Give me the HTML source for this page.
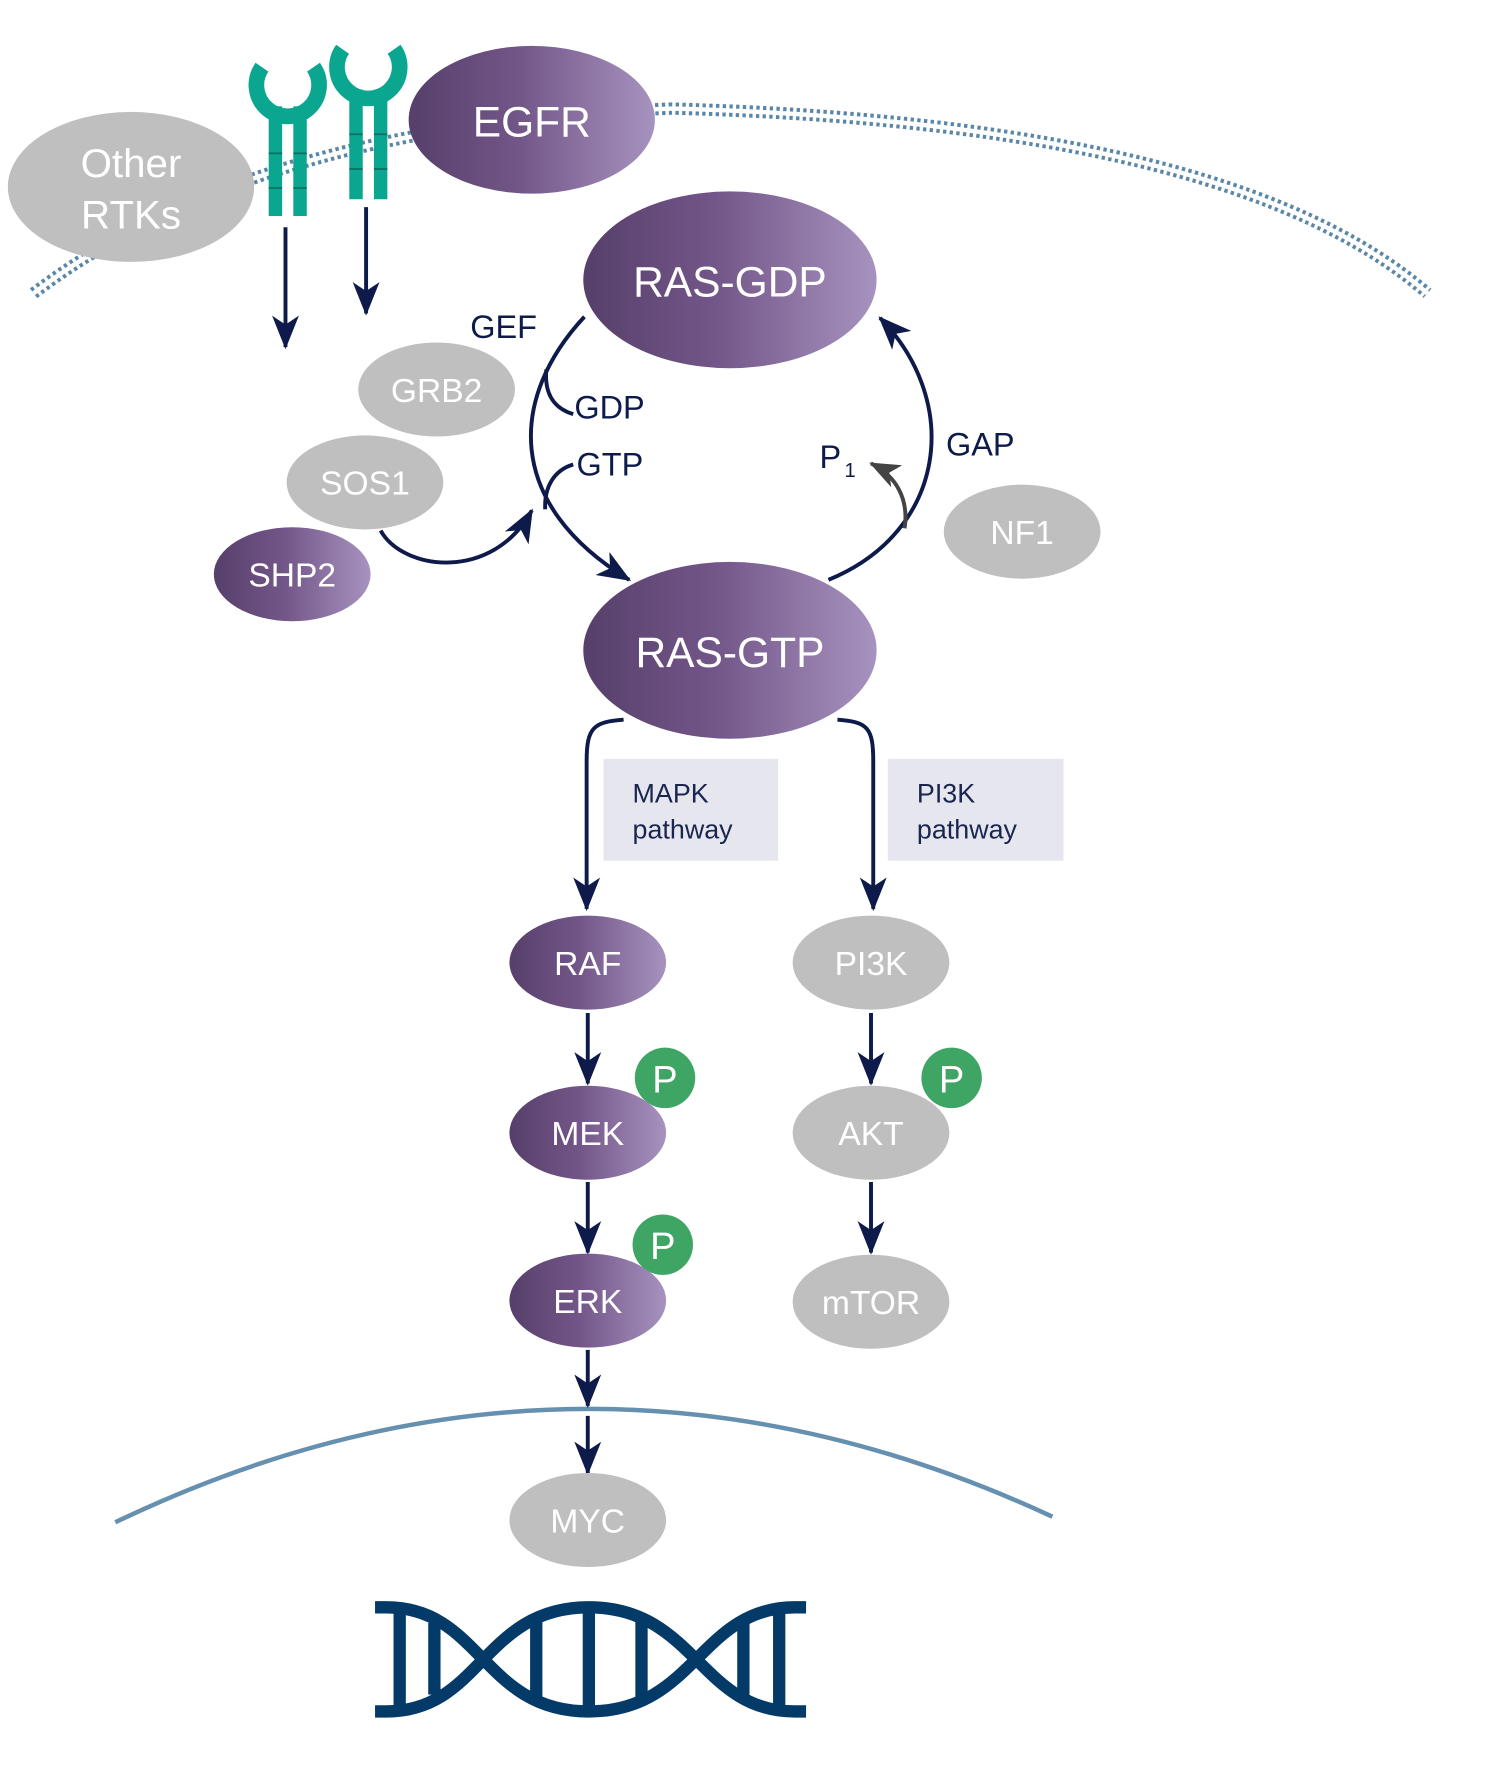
<!DOCTYPE html>
<html><head><meta charset="utf-8"><style>
html,body{margin:0;padding:0;background:#fff;}
svg{display:block;}
text{font-family:"Liberation Sans",Arial,sans-serif;}
</style></head><body>
<svg width="1489" height="1773" viewBox="0 0 1330 1584" preserveAspectRatio="none" xmlns="http://www.w3.org/2000/svg">
<defs>
<linearGradient id="pg" x1="0" y1="0" x2="1" y2="0">
<stop offset="0" stop-color="#563f6a"/><stop offset="0.45" stop-color="#735689"/><stop offset="1" stop-color="#a793bf"/>
</linearGradient>
<marker id="ah" viewBox="0 0 30 24" refX="28" refY="12" markerWidth="30" markerHeight="24" markerUnits="userSpaceOnUse" orient="auto">
<path d="M0,0 L30,12 L0,24 L8,12 Z" fill="#0d1a4a"/>
</marker>
<marker id="ahg" viewBox="0 0 30 24" refX="28" refY="12" markerWidth="28" markerHeight="22" markerUnits="userSpaceOnUse" orient="auto">
<path d="M0,0 L30,12 L0,24 L8,12 Z" fill="#444"/>
</marker>
</defs>

<!-- cell membrane -->
<g fill="none">
<path d="M30,262 Q230,110 600,97 Q1100,110 1275,262" stroke="#5a87a8" stroke-width="11" stroke-dasharray="3,3"/>
<path d="M30,262 Q230,110 600,97 Q1100,110 1275,262" stroke="#fff" stroke-width="4"/>
</g>

<!-- nuclear membrane -->
<path d="M103,1360 Q520,1160 940,1355" fill="none" stroke="#6690b0" stroke-width="4"/>

<!-- Other RTKs -->
<ellipse cx="117" cy="167" rx="110" ry="67" fill="#bfbfbf"/>
<text x="117" y="158" font-size="36" fill="#fff" text-anchor="middle">Other</text>
<text x="117" y="204" font-size="36" fill="#fff" text-anchor="middle">RTKs</text>

<!-- receptors -->
<g fill="#0aa68f">
<path d="M234,60 A28,28 0 1 0 280,60" fill="none" stroke="#0aa68f" stroke-width="14"/>
<rect x="240" y="95" width="12" height="98"/><rect x="262" y="95" width="12" height="98"/>
<path d="M306,44 A28,28 0 1 0 352,44" fill="none" stroke="#0aa68f" stroke-width="14"/>
<rect x="312" y="80" width="12" height="98"/><rect x="334" y="80" width="12" height="98"/>
</g>
<g stroke="#0b6e5e" stroke-width="1.5">
<line x1="240" y1="137" x2="252" y2="137"/><line x1="262" y1="137" x2="274" y2="137"/>
<line x1="240" y1="168" x2="252" y2="168"/><line x1="262" y1="168" x2="274" y2="168"/>
<line x1="312" y1="120" x2="324" y2="120"/><line x1="334" y1="120" x2="346" y2="120"/>
<line x1="312" y1="151" x2="324" y2="151"/><line x1="334" y1="151" x2="346" y2="151"/>
</g>

<!-- EGFR -->
<ellipse cx="475" cy="107" rx="110" ry="66" fill="url(#pg)"/>
<text x="475" y="122" font-size="38" fill="#fff" text-anchor="middle">EGFR</text>

<!-- arrows and connectors -->
<g fill="none" stroke="#0d1a4a" stroke-width="3.5">
<path d="M255,203 L255,310" marker-end="url(#ah)"/>
<path d="M327,185 L327,280" marker-end="url(#ah)"/>
<path d="M522,283 C455,355 450,450 562,518" marker-end="url(#ah)"/>
<path d="M488,330 C486,352 495,365 512,370"/>
<path d="M512,415 C495,420 486,435 487,455"/>
<path d="M340,474 C360,510 440,520 475,456" marker-end="url(#ah)"/>
<path d="M740,518 C845,475 860,360 786,284" marker-end="url(#ah)"/>
<path d="M557,643 C530,645 524,650 524,680 L524,812" marker-end="url(#ah)"/>
<path d="M748,643 C775,645 780,650 780,680 L780,812" marker-end="url(#ah)"/>
<path d="M525,905 L525,968" marker-end="url(#ah)"/>
<path d="M525,1056 L525,1119" marker-end="url(#ah)"/>
<path d="M525,1206 L525,1256" marker-end="url(#ah)"/>
<path d="M525,1265 L525,1316" marker-end="url(#ah)"/>
<path d="M778,905 L778,968" marker-end="url(#ah)"/>
<path d="M778,1056 L778,1119" marker-end="url(#ah)"/>
</g>
<path d="M808,472 C812,445 800,425 778,414" fill="none" stroke="#444" stroke-width="3.5" marker-end="url(#ahg)"/>

<!-- RAS-GDP / RAS-GTP -->
<ellipse cx="652" cy="250" rx="131" ry="79" fill="url(#pg)"/>
<text x="652" y="265" font-size="38" fill="#fff" text-anchor="middle">RAS-GDP</text>
<ellipse cx="652" cy="581" rx="131" ry="79" fill="url(#pg)"/>
<text x="652" y="596" font-size="38" fill="#fff" text-anchor="middle">RAS-GTP</text>

<!-- labels -->
<g font-size="29" fill="#0d1a4a">
<text x="420" y="302">GEF</text>
<text x="513" y="374">GDP</text>
<text x="515" y="425">GTP</text>
<text x="845" y="407">GAP</text>
<text x="732" y="418">P<tspan font-size="18" dx="3" dy="8">1</tspan></text>
</g>

<!-- GRB2 SOS1 SHP2 NF1 -->
<ellipse cx="390" cy="348" rx="70" ry="42" fill="#bfbfbf"/>
<text x="390" y="359" font-size="30" fill="#fff" text-anchor="middle">GRB2</text>
<ellipse cx="326" cy="431" rx="70" ry="42" fill="#bfbfbf"/>
<text x="326" y="442" font-size="30" fill="#fff" text-anchor="middle">SOS1</text>
<ellipse cx="261" cy="513" rx="70" ry="42" fill="url(#pg)"/>
<text x="261" y="524" font-size="30" fill="#fff" text-anchor="middle">SHP2</text>
<ellipse cx="913" cy="475" rx="70" ry="42" fill="#bfbfbf"/>
<text x="913" y="486" font-size="30" fill="#fff" text-anchor="middle">NF1</text>

<!-- pathway boxes -->
<rect x="539" y="678" width="156" height="91" fill="#e6e7ee"/>
<text x="565" y="717" font-size="24" fill="#1a2550">MAPK</text>
<text x="565" y="749" font-size="24" fill="#1a2550">pathway</text>
<rect x="793" y="678" width="157" height="91" fill="#e6e7ee"/>
<text x="819" y="717" font-size="24" fill="#1a2550">PI3K</text>
<text x="819" y="749" font-size="24" fill="#1a2550">pathway</text>

<!-- MAPK column -->
<ellipse cx="525" cy="860" rx="70" ry="42" fill="url(#pg)"/>
<text x="525" y="871" font-size="30" fill="#fff" text-anchor="middle">RAF</text>
<ellipse cx="525" cy="1012" rx="70" ry="42" fill="url(#pg)"/>
<text x="525" y="1023" font-size="30" fill="#fff" text-anchor="middle">MEK</text>
<ellipse cx="525" cy="1162" rx="70" ry="42" fill="url(#pg)"/>
<text x="525" y="1173" font-size="30" fill="#fff" text-anchor="middle">ERK</text>
<ellipse cx="525" cy="1358" rx="70" ry="42" fill="#bfbfbf"/>
<text x="525" y="1369" font-size="30" fill="#fff" text-anchor="middle">MYC</text>

<!-- PI3K column -->
<ellipse cx="778" cy="860" rx="70" ry="42" fill="#bfbfbf"/>
<text x="778" y="871" font-size="30" fill="#fff" text-anchor="middle">PI3K</text>
<ellipse cx="778" cy="1012" rx="70" ry="42" fill="#bfbfbf"/>
<text x="778" y="1023" font-size="30" fill="#fff" text-anchor="middle">AKT</text>
<ellipse cx="778" cy="1163" rx="70" ry="42" fill="#bfbfbf"/>
<text x="778" y="1174" font-size="30" fill="#fff" text-anchor="middle">mTOR</text>

<!-- P circles -->
<g>
<circle cx="594" cy="963" r="27" fill="#3fa565"/>
<text x="594" y="976" font-size="34" fill="#fff" text-anchor="middle">P</text>
<circle cx="850" cy="963" r="27" fill="#3fa565"/>
<text x="850" y="976" font-size="34" fill="#fff" text-anchor="middle">P</text>
<circle cx="592" cy="1112" r="27" fill="#3fa565"/>
<text x="592" y="1125" font-size="34" fill="#fff" text-anchor="middle">P</text>
</g>

<!-- DNA -->
<g fill="none" stroke="#033a68" stroke-width="11" stroke-linecap="butt">
<path d="M335,1436 L345,1436 C430,1436 431,1529 526,1529 C621,1529 625,1436 710,1436 L720,1436"/>
<path d="M335,1529 L345,1529 C430,1529 431,1436 526,1436 C621,1436 625,1529 710,1529 L720,1529"/>
</g>
<g stroke="#033a68" stroke-width="11">
<line x1="357" y1="1438" x2="357" y2="1527"/>
<line x1="388" y1="1450" x2="388" y2="1514"/>
<line x1="479" y1="1447" x2="479" y2="1517"/>
<line x1="526" y1="1436" x2="526" y2="1529"/>
<line x1="573" y1="1447" x2="573" y2="1517"/>
<line x1="664" y1="1450" x2="664" y2="1514"/>
<line x1="696" y1="1438" x2="696" y2="1527"/>
</g>
</svg>
</body></html>
